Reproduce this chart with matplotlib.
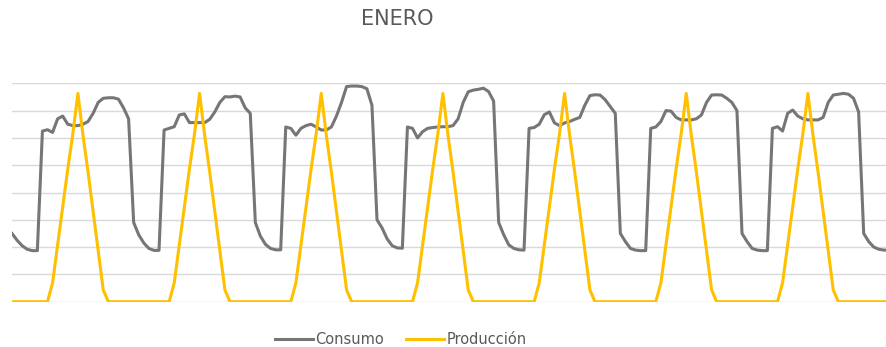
import numpy as np
import matplotlib
matplotlib.use("Agg")
import matplotlib.pyplot as plt

# hourly consumption, one list per day (kW)
dia1 = [2.50, 2.25, 2.05, 1.92, 1.87, 1.87, 6.25, 6.30, 6.20, 6.70, 6.80, 6.50,
        6.45, 6.45, 6.50, 6.60, 6.90, 7.30, 7.45, 7.47, 7.47, 7.42, 7.10, 6.70]
dia2 = [2.90, 2.45, 2.15, 1.95, 1.88, 1.88, 6.29, 6.35, 6.41, 6.84, 6.88, 6.56,
        6.56, 6.56, 6.56, 6.68, 6.95, 7.30, 7.51, 7.50, 7.53, 7.50, 7.10, 6.90]
dia3 = [2.90, 2.40, 2.10, 1.95, 1.90, 1.90, 6.40, 6.35, 6.10, 6.35, 6.45, 6.50,
        6.40, 6.29, 6.29, 6.40, 6.80, 7.30, 7.88, 7.90, 7.90, 7.88, 7.80, 7.20]
dia4 = [3.00, 2.70, 2.30, 2.05, 1.97, 1.96, 6.40, 6.35, 6.00, 6.23, 6.35, 6.38,
        6.40, 6.41, 6.41, 6.45, 6.70, 7.30, 7.69, 7.75, 7.78, 7.82, 7.70, 7.35]
dia5 = [2.90, 2.45, 2.08, 1.95, 1.90, 1.89, 6.35, 6.38, 6.50, 6.85, 6.95, 6.55,
        6.45, 6.55, 6.60, 6.68, 6.75, 7.20, 7.55, 7.58, 7.57, 7.40, 7.15, 6.90]
dia6 = [2.50, 2.20, 1.95, 1.89, 1.87, 1.87, 6.35, 6.40, 6.60, 7.00, 6.98, 6.75,
        6.66, 6.66, 6.66, 6.70, 6.84, 7.30, 7.57, 7.58, 7.57, 7.45, 7.30, 7.00]
dia7 = [2.50, 2.20, 1.95, 1.89, 1.87, 1.87, 6.35, 6.41, 6.25, 6.90, 7.02, 6.80,
        6.70, 6.66, 6.66, 6.66, 6.75, 7.30, 7.57, 7.60, 7.63, 7.60, 7.45, 6.95]
dia8 = [2.50, 2.20, 2.00, 1.92, 1.89, 1.89]

# hourly PV production for a January day (same every day)
produccion_dia = [0, 0, 0, 0, 0, 0, 0, 0, 0.69, 2.08, 3.47, 4.86,
                  6.15, 7.63, 6.10, 4.75, 3.31, 1.87, 0.43, 0, 0, 0, 0, 0]

consumo = dia1 + dia2 + dia3 + dia4 + dia5 + dia6 + dia7 + dia8
produccion = (produccion_dia * 8)[:len(consumo)]
horas = np.arange(len(consumo))

gris = "#767676"
amarillo = "#FFC000"

fig = plt.figure(figsize=(8.87, 3.47), dpi=100)
ax = fig.add_axes([12 / 887, 45.3 / 347, 1 - 12 / 887, 218.4 / 347])

l1, = ax.plot(horas, consumo, color=gris, lw=2.2, solid_joinstyle="round",
              label="Consumo", zorder=3)
l2, = ax.plot(horas, produccion, color=amarillo, lw=2.2, solid_joinstyle="round",
              label="Producción", zorder=4)

ax.set_xlim(0, 172.6)
ax.set_ylim(0, 8)
ax.set_yticks(np.arange(0, 9, 1))
ax.grid(axis="y", color="#d9d9d9", lw=1)
ax.set_axisbelow(True)
ax.tick_params(left=False, bottom=False, labelleft=False, labelbottom=False)
for s in ax.spines.values():
    s.set_visible(False)

fig.text(397 / 887, 1 - 19 / 347, "ENERO", ha="center", va="center",
         fontsize=15, color="#595959", family="DejaVu Sans")

fig.legend(handles=[l1, l2], loc="center", bbox_to_anchor=(401 / 887, 7 / 347),
           ncol=2, frameon=False, handlelength=2.6, columnspacing=1.5,
           handletextpad=0.2, prop={"family": "DejaVu Sans", "size": 10.5},
           labelcolor="#595959")

fig.savefig("out.png", dpi=100)
